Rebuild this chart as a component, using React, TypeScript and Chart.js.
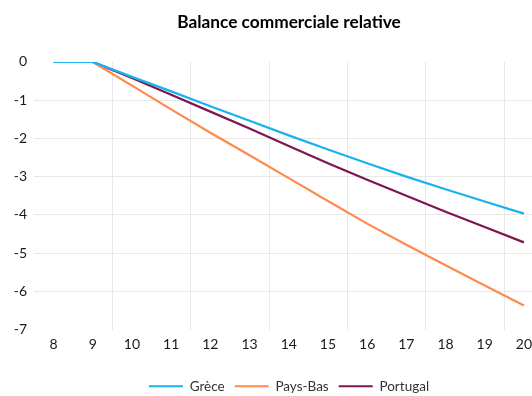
import React, { useEffect, useRef } from "react";
import { Chart, registerables } from "chart.js";

Chart.register(...registerables);

const years = [8, 9, 10, 11, 12, 13, 14, 15, 16, 17, 18, 19, 20];
const grece = [0, 0, -0.39, -0.77, -1.16, -1.54, -1.92, -2.29, -2.65, -3.0, -3.33, -3.65, -3.97];
const paysBas = [0, 0, -0.62, -1.24, -1.85, -2.44, -3.04, -3.64, -4.23, -4.78, -5.32, -5.85, -6.37];
const portugal = [0, 0, -0.42, -0.86, -1.3, -1.74, -2.2, -2.65, -3.08, -3.5, -3.92, -4.32, -4.72];
const seriesNames = ["Grèce", "Pays-Bas", "Portugal"];
const seriesColors = ["#1AB1F0", "#FF8A4C", "#7E1651"];
const title = "Balance commerciale relative";

const FONT = "Lato, 'Open Sans', sans-serif";

export default function App() {
  const ref = useRef<HTMLCanvasElement>(null);
  useEffect(() => {
    if (!ref.current) return;
    const all = [grece, paysBas, portugal];
    const chart = new Chart(ref.current, {
      type: "line",
      data: {
        datasets: all.map((vals, i) => ({
          label: seriesNames[i],
          data: years.map((x, j) => ({ x, y: vals[j] })),
          borderColor: seriesColors[i],
          backgroundColor: seriesColors[i],
          borderWidth: 2.25,
          pointRadius: 0,
          tension: 0,
          fill: false,
        })),
      },
      options: {
        animation: false,
        responsive: false,
        maintainAspectRatio: false,
        layout: { padding: 0 },
        plugins: {
          title: {
            display: true,
            text: title,
            color: "#000",
            font: { family: FONT, size: 17.3, weight: "bold" },
            padding: { top: 12, bottom: 29.2 },
          },
          legend: {
            position: "bottom",
            labels: {
              font: { family: FONT, size: 13.5 },
              color: "#333",
              boxWidth: 34,
              boxHeight: 2,
              padding: 10,
              generateLabels: (c: any) =>
                c.data.datasets.map((d: any, i: number) => ({
                  text: d.label,
                  fillStyle: d.borderColor,
                  strokeStyle: d.borderColor,
                  lineWidth: 0,
                  fontColor: "#333",
                  datasetIndex: i,
                  hidden: false,
                })),
            },
          },
          tooltip: { enabled: false },
        },
        scales: {
          x: {
            type: "linear",
            min: 7.5,
            max: 21.38,
            afterBuildTicks: (s: any) => {
              const t: any[] = [];
              for (let v = 7.5; v <= 21.0; v += 0.5) t.push({ value: v });
              s.ticks = t;
            },
            afterFit: (s: any) => {
              s.height = 40;
            },
            border: { display: false },
            grid: {
              drawTicks: false,
              color: (ctx: any) => {
                const v = ctx.tick ? ctx.tick.value : NaN;
                return v >= 9.5 && v <= 19.5 && Math.abs((v - 9.5) % 2) < 1e-6
                  ? "#E8E8E8"
                  : "rgba(0,0,0,0)";
              },
              lineWidth: 1,
            },
            ticks: {
              autoSkip: false,
              maxRotation: 0,
              minRotation: 0,
              padding: 7,
              color: "#1a1a1a",
              font: { family: FONT, size: 14 },
              callback: (v: any) => (Number.isInteger(v) && v >= 8 && v <= 20 ? String(v) : ""),
            },
          },
          y: {
            type: "linear",
            min: -7,
            max: 0,
            afterFit: (s: any) => {
              s.width = 34;
            },
            border: { display: false },
            grid: {
              drawTicks: false,
              color: (ctx: any) => {
                const v = ctx.tick ? ctx.tick.value : NaN;
                return v <= -1 && v >= -6 ? "#E8E8E8" : "rgba(0,0,0,0)";
              },
              lineWidth: 1,
            },
            ticks: {
              stepSize: 1,
              padding: 7,
              color: "#1a1a1a",
              font: { family: FONT, size: 14 },
            },
          },
        },
      },
    } as any);
    return () => chart.destroy();
  }, []);
  return (
    <div
      style={{
        position: "absolute",
        left: 0,
        top: 0,
        width: 532,
        height: 396,
        overflow: "hidden",
        background: "#fff",
      }}
    >
      <canvas ref={ref} width={578} height={403} style={{ width: 578, height: 403, display: "block" }} />
    </div>
  );
}
